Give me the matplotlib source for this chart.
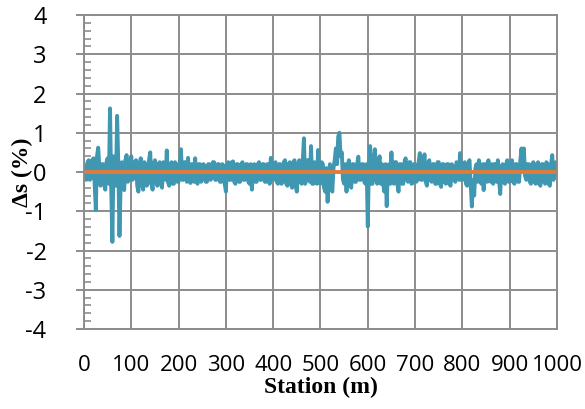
import numpy as np
import matplotlib.pyplot as plt
from matplotlib.ticker import MultipleLocator

plt.rcParams['axes.unicode_minus'] = False

# stations every 2.5 m along the line
station = np.linspace(0, 1000, 401)

# settlement difference (%) at each station, 50 m per row
ds = [
    0.15, -0.1, -0.2, 0.25, 0.3, -0.2, -0.15, 0.3, 0.35, -0.3, -0.97, 0.4, 0.62, 0.1, -0.35, 0.2, 0.2, -0.3, -0.45, 0.25,
    0.35, -0.3, 1.62, -0.4, -1.78, 0.4, 0.3, -0.35, 1.43, 0.2, -1.63, -0.3, 0.25, -0.2, -0.46, 0.3, 0.43, -0.25, -0.2, 0.3,
    0.4, -0.2, -0.15, 0.25, 0.3, -0.35, -0.5, 0.2, 0.35, -0.3, -0.45, 0.25, 0.2, -0.35, -0.3, 0.3, 0.5, -0.25, -0.45, 0.2,
    0.3, -0.25, -0.35, 0.2, 0.25, -0.3, -0.4, 0.25, 0.2, -0.2, 0.55, -0.25, -0.35, 0.2, 0.25, -0.3, -0.3, 0.25, 0.2, -0.25,
    -0.25, 0.2, 0.58, -0.2, -0.2, 0.25, 0.25, -0.25, 0.36, -0.2, -0.28, 0.2, 0.2, -0.25, 0.35, -0.2, -0.3, 0.2, 0.2, -0.25,
    -0.2, 0.2, 0.15, -0.25, -0.25, 0.2, 0.2, -0.2, -0.15, 0.25, 0.25, -0.2, -0.2, 0.2, 0.2, -0.25, -0.25, 0.2, 0.15, -0.3,
    -0.5, 0.2, 0.25, -0.2, -0.2, 0.25, 0.27, -0.25, -0.3, 0.2, 0.2, -0.25, -0.25, 0.2, 0.25, -0.2, -0.2, 0.2, 0.2, -0.25,
    -0.3, 0.2, -0.45, 0.15, 0.2, -0.25, -0.25, 0.2, 0.25, -0.2, -0.2, 0.2, 0.2, -0.25, -0.25, 0.2, 0.2, -0.3, 0.36, -0.2,
    -0.2, 0.2, 0.25, -0.25, -0.3, 0.2, 0.2, -0.3, -0.25, 0.25, 0.3, -0.3, -0.35, 0.2, 0.25, -0.3, -0.4, 0.25, 0.3, -0.35,
    -0.5, 0.2, 0.3, -0.25, -0.3, 0.3, 0.86, -0.3, -0.2, 0.3, 0.3, -0.25, 0.66, -0.3, -0.3, 0.25, 0.2, -0.3, 0.56, -0.25,
    -0.3, 0.25, 0.2, -0.4, -0.5, 0.1, -0.76, -0.2, 0.2, -0.3, -0.5, 0.1, 0.3, 0.6, 0.2, 0.9, 1.0, 0.4, 0.5, -0.2,
    -0.3, 0.2, -0.5, 0.1, 0.3, -0.3, -0.4, 0.2, 0.2, -0.25, -0.25, 0.2, 0.39, -0.2, -0.2, 0.2, 0.2, -0.25, -0.3, 0.2,
    -1.39, 0.3, 0.66, -0.3, -0.3, 0.3, 0.58, -0.2, -0.3, 0.2, 0.4, -0.3, 0.2, -0.3, -0.5, 0.2, -0.87, 0.1, 0.2, -0.3,
    0.5, -0.2, -0.3, 0.25, 0.25, -0.3, -0.5, 0.2, 0.2, -0.3, -0.3, 0.25, 0.35, -0.2, -0.25, 0.25, 0.25, -0.3, -0.28, 0.2,
    0.2, -0.25, -0.2, 0.25, 0.48, -0.2, -0.2, 0.3, 0.45, -0.25, -0.35, 0.2, 0.3, -0.2, -0.25, 0.2, 0.2, -0.3, -0.3, 0.25,
    0.25, -0.3, -0.38, 0.2, 0.2, -0.25, -0.3, 0.2, 0.2, -0.3, -0.35, 0.2, 0.15, -0.2, -0.25, 0.25, 0.2, -0.2, 0.48, -0.2,
    -0.2, 0.2, 0.25, -0.3, -0.35, 0.2, 0.3, -0.3, -0.88, -0.2, -0.6, 0.1, 0.2, -0.25, 0.3, -0.2, -0.3, 0.2, -0.46, 0.2,
    0.2, -0.25, 0.3, -0.2, -0.25, 0.2, -0.3, 0.2, 0.2, -0.25, 0.3, -0.2, -0.56, 0.1, 0.2, -0.25, -0.3, 0.2, 0.3, -0.25,
    -0.25, 0.2, 0.3, -0.25, -0.3, 0.2, 0.2, -0.25, -0.25, 0.3, 0.6, 0.1, 0.6, -0.1, -0.2, 0.2, 0.2, -0.25, -0.3, 0.2,
    0.25, -0.25, -0.3, 0.2, 0.25, -0.3, -0.35, 0.2, 0.2, -0.25, -0.3, 0.25, 0.2, -0.3, -0.35, 0.2, 0.43, -0.2, -0.1, 0.25,
    0.2,
]
baseline = [0.0, 0.0]
baseline_x = [0, 1000]

grey = '#8c8c8c'
tick_font = 'Open Sans'
label_font = 'Liberation Serif'

fig = plt.figure(figsize=(5.85, 4.09), dpi=100)
ax = fig.add_axes([0.1436, 0.1956, 0.8085, 0.7677])

ax.plot(station, ds, color='#3f97b1', linewidth=2.8, solid_joinstyle='round')
ax.plot(baseline_x, baseline, color='#e07b39', linewidth=2.8)

ax.set_xlim(0, 1000)
ax.set_ylim(-4, 4)
ax.xaxis.set_major_locator(MultipleLocator(100))
ax.yaxis.set_major_locator(MultipleLocator(1))
ax.yaxis.set_minor_locator(MultipleLocator(0.2))

ax.grid(True, which='major', color=grey, linewidth=1.4)
ax.set_axisbelow(True)
for s in ax.spines.values():
    s.set_color(grey)
    s.set_linewidth(1.4)

ax.tick_params(axis='x', length=0, pad=19, labelsize=16)
ax.tick_params(axis='y', which='major', length=6, width=1.4, color=grey,
               direction='out', pad=21, labelsize=17)
ax.tick_params(axis='y', which='minor', length=5, width=1.2, color=grey,
               direction='in')
for lbl in ax.get_xticklabels() + ax.get_yticklabels():
    lbl.set_fontfamily(tick_font)

ax.set_xlabel('Station (m)', fontsize=17, fontweight='bold',
              fontfamily=label_font, labelpad=0)
ax.set_ylabel('Δs (%)', fontsize=17, fontweight='bold',
              fontfamily=label_font)
ax.yaxis.set_label_coords(-0.108, 0.5)

fig.savefig('out.png', dpi=100)
